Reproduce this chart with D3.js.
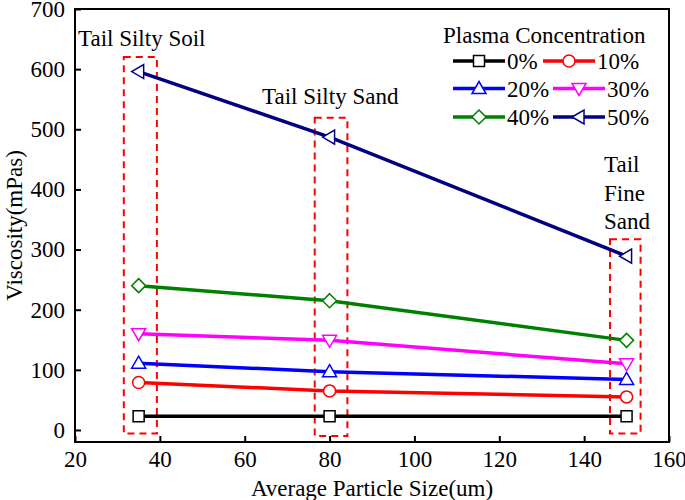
<!DOCTYPE html>
<html>
<head>
<script src="https://d3js.org/d3.v7.min.js"></script>
<style>
  body { margin: 0; background: #fff; }
  text { font-family: "Liberation Serif", "Times New Roman", serif; fill: #000; }
</style>
</head>
<body>
<div id="chart"></div>
<script>
// particle sizes (um)
var sizes = [35, 80, 150];
var concentrations = ["0%", "10%", "20%", "30%", "40%", "50%"];
var visc0 = [23, 23, 23];
var visc10 = [79, 65, 55];
var visc20 = [111, 97, 84];
var visc30 = [160, 149, 110];
var visc40 = [240, 215, 149];
var visc50 = [596, 487, 289];
var xTicks = [20, 40, 60, 80, 100, 120, 140, 160];
var yTicks = [0, 100, 200, 300, 400, 500, 600, 700];
// dashed boxes round each soil type: [x0, x1, yTop, yBottom] in data units
var boxes = [[31.5, 39.3, 620, -6], [76.5, 84.2, 519, -10], [146.1, 153.3, 317, -6]];
var boxLabels = [["Tail Silty Soil"], ["Tail Silty Sand"], ["Tail", "Fine", "Sand"]];

var seriesList = [
  {name: concentrations[0], values: visc0, color: "#000000", shape: "square"},
  {name: concentrations[1], values: visc10, color: "#ff0000", shape: "circle"},
  {name: concentrations[2], values: visc20, color: "#0000ff", shape: "up"},
  {name: concentrations[3], values: visc30, color: "#ff00ff", shape: "down"},
  {name: concentrations[4], values: visc40, color: "#008000", shape: "diamond"},
  {name: concentrations[5], values: visc50, color: "#000080", shape: "left"}
];

var w = 685, h = 500;
var mLeft = 75, mRight = 669, mTop = 9, mBottom = 442;
var fs = "23px";

var x = d3.scaleLinear().domain([20, 160]).range([mLeft, mRight]);
var y = d3.scaleLinear().domain([-20, 700]).range([mBottom, mTop]);

var svg = d3.select("#chart").append("svg").attr("width", w).attr("height", h);

// marker shapes
function markerPath(shape) {
  var s = 5.5;
  if (shape == "square") return "M" + (-s) + "," + (-s) + "H" + s + "V" + s + "H" + (-s) + "Z";
  if (shape == "circle") return d3.arc()({innerRadius: 0, outerRadius: 6, startAngle: 0, endAngle: 2 * Math.PI});
  if (shape == "up") return "M0,-7L7,5L-7,5Z";
  if (shape == "down") return "M0,7L7,-5L-7,-5Z";
  if (shape == "diamond") return "M0,-7L7,0L0,7L-7,0Z";
  if (shape == "left") return "M-7,0L5,-7L5,7Z";
}

// dashed boxes
svg.selectAll("rect.box")
  .data(boxes)
  .enter()
  .append("rect")
  .attr("class", "box")
  .attr("x", function(d) { return x(d[0]); })
  .attr("y", function(d) { return y(d[2]); })
  .attr("width", function(d) { return x(d[1]) - x(d[0]); })
  .attr("height", function(d) { return y(d[3]) - y(d[2]); })
  .style("fill", "none")
  .style("stroke", "#ff0000")
  .style("stroke-width", 2)
  .style("stroke-dasharray", "7,5");

// lines
var line = d3.line()
  .x(function(d, i) { return x(sizes[i]); })
  .y(function(d) { return y(d); });

svg.selectAll("path.series")
  .data(seriesList)
  .enter()
  .append("path")
  .attr("class", "series")
  .attr("d", function(d) { return line(d.values); })
  .style("fill", "none")
  .style("stroke", function(d) { return d.color; })
  .style("stroke-width", 3.5);

seriesList.forEach(function(s) {
  svg.selectAll(null)
    .data(s.values)
    .enter()
    .append("path")
    .attr("d", markerPath(s.shape))
    .attr("transform", function(d, i) { return "translate(" + x(sizes[i]) + "," + y(d) + ")"; })
    .style("fill", "#fff")
    .style("stroke", s.color)
    .style("stroke-width", 1.5);
});

// box labels
var labelPos = [[78, 46], [262, 104], [604, 172]];
boxLabels.forEach(function(lines, i) {
  var t = svg.append("text")
    .attr("x", labelPos[i][0])
    .attr("y", labelPos[i][1])
    .style("font-size", fs);
  lines.forEach(function(l, j) {
    t.append("tspan").attr("x", labelPos[i][0]).attr("dy", j == 0 ? 0 : 28.5).text(l);
  });
});

// frame
svg.append("rect")
  .attr("x", mLeft).attr("y", mTop)
  .attr("width", mRight - mLeft).attr("height", mBottom - mTop)
  .style("fill", "none").style("stroke", "#000").style("stroke-width", 2);

var xAxis = d3.axisBottom(x).tickValues(xTicks).tickSizeInner(-6).tickSizeOuter(0).tickPadding(10);
var yAxis = d3.axisLeft(y).tickValues(yTicks).tickSizeInner(-6).tickSizeOuter(0).tickPadding(10);

var gx = svg.append("g").attr("transform", "translate(0," + mBottom + ")").call(xAxis);
var gy = svg.append("g").attr("transform", "translate(" + mLeft + ",0)").call(yAxis);
[gx, gy].forEach(function(g) {
  g.select(".domain").remove();
  g.selectAll("line").style("stroke", "#000").style("stroke-width", 2);
  g.selectAll("text").style("font-family", "Liberation Serif").style("font-size", fs).style("fill", "#000");
});
gx.selectAll("text").attr("dy", "0.65em");

// axis titles
svg.append("text")
  .attr("x", (mLeft + mRight) / 2)
  .attr("y", 496)
  .attr("text-anchor", "middle")
  .style("font-size", fs)
  .text("Average Particle Size(um)");

svg.append("text")
  .attr("transform", "translate(22," + ((mTop + mBottom) / 2) + ") rotate(-90)")
  .attr("text-anchor", "middle")
  .style("font-size", fs)
  .text("Viscosity(mPas)");

// legend
var legend = svg.append("g");
legend.append("text").attr("x", 443).attr("y", 43).style("font-size", fs).text("Plasma Concentration");
var rowsY = [61, 88.5, 117];
var col2Start = [543, 553, 553];
seriesList.forEach(function(s, i) {
  var row = Math.floor(i / 2), col = i % 2;
  var x0 = col == 0 ? 453 : col2Start[row];
  var yy = rowsY[row];
  legend.append("line").attr("x1", x0).attr("x2", x0 + 52).attr("y1", yy).attr("y2", yy)
    .style("stroke", s.color).style("stroke-width", 3.5);
  legend.append("path").attr("d", markerPath(s.shape))
    .attr("transform", "translate(" + (x0 + 26) + "," + yy + ")")
    .style("fill", "#fff").style("stroke", s.color).style("stroke-width", 1.5);
  legend.append("text").attr("x", x0 + 54).attr("y", yy + 8).style("font-size", fs).text(s.name);
});
</script>
</body>
</html>
